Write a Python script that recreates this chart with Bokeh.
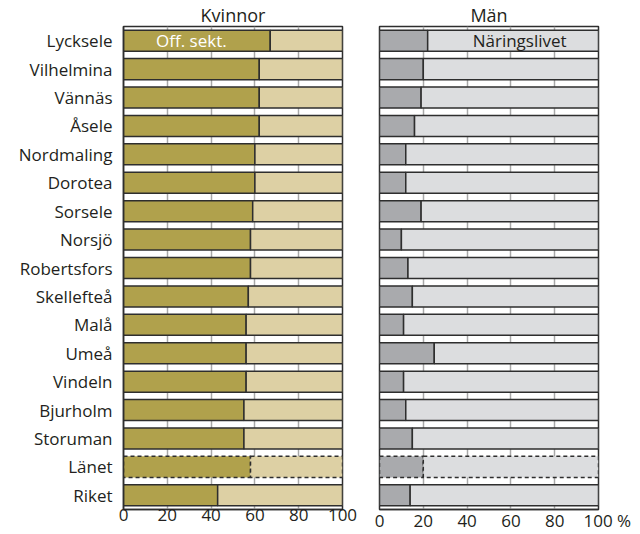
from bokeh.plotting import figure
from bokeh.models import FactorRange, Range1d, ColumnDataSource, FixedTicker
from bokeh.layouts import row
from bokeh.embed import file_html
from bokeh.resources import INLINE
from bokeh.core.properties import value

municipalities = ["Lycksele", "Vilhelmina", "Vännäs", "Åsele", "Nordmaling", "Dorotea",
                  "Sorsele", "Norsjö", "Robertsfors", "Skellefteå", "Malå", "Umeå",
                  "Vindeln", "Bjurholm", "Storuman", "Länet", "Riket"]
women_public = [67, 62, 62, 62, 60, 60, 59, 58, 58, 57, 56, 56, 56, 55, 55, 58, 43]
men_public = [22, 20, 19, 16, 12, 12, 19, 10, 13, 15, 11, 25, 11, 12, 15, 20, 14]
dashed_rows = ["Länet"]
x_ticks = [0, 20, 40, 60, 80, 100]
panel_titles = ["Kvinnor", "Män"]
public_label = "Off. sekt."
private_label = "Näringslivet"
unit_label = "%"

FONT = "Open Sans"
TEXT = "#231f20"
EDGE = "#2e2e2e"
GRID = "#a8a8a8"
FS = "17px"
H = 534


def make_panel(title, public, dark, light, show_y, width, left, right):
    p = figure(width=width, height=H,
               y_range=FactorRange(factors=list(reversed(municipalities))),
               x_range=Range1d(0, 100),
               output_backend="svg", toolbar_location=None,
               min_border_left=left, min_border_right=right,
               min_border_top=20, min_border_bottom=0)
    p.title.text = title
    p.title.align = "center"
    p.title.text_font = FONT
    p.title.text_font_size = "18px"
    p.title.text_font_style = "normal"
    p.title.text_color = TEXT
    p.title.offset = 0
    p.title.standoff = 0

    for dashed in (False, True):
        rows = [m for m in municipalities if (m in dashed_rows) == dashed]
        pub = [public[municipalities.index(m)] for m in rows]
        src = ColumnDataSource(dict(y=rows, pub=pub, zero=[0] * len(rows), full=[100] * len(rows)))
        kw = dict(line_color=EDGE, line_width=1.5)
        if dashed:
            kw["line_dash"] = "4 3"
        p.hbar(y="y", left="zero", right="pub", height=0.74, fill_color=dark, source=src, **kw)
        p.hbar(y="y", left="pub", right="full", height=0.74, fill_color=light, source=src, **kw)

    p.xgrid.ticker = FixedTicker(ticks=x_ticks[1:-1])
    p.xgrid.grid_line_color = GRID
    p.xgrid.grid_line_width = 1.5
    p.ygrid.grid_line_color = None

    p.xaxis.ticker = FixedTicker(ticks=x_ticks)
    p.xaxis.major_label_text_font = FONT
    p.xaxis.major_label_text_font_size = FS
    p.xaxis.major_label_text_color = TEXT
    p.xaxis.major_label_standoff = -1
    p.xaxis.major_tick_out = 0
    p.xaxis.major_tick_in = 0
    p.xaxis.minor_tick_line_color = None
    p.xaxis.axis_line_color = EDGE
    p.xaxis.axis_line_width = 1.5
    p.xaxis.major_tick_line_color = None

    if show_y:
        p.yaxis.major_label_text_font = FONT
        p.yaxis.major_label_text_font_size = FS
        p.yaxis.major_label_text_color = TEXT
        p.yaxis.major_label_standoff = 5
        p.yaxis.major_tick_line_color = None
        p.yaxis.minor_tick_line_color = None
        p.yaxis.axis_line_color = EDGE
        p.yaxis.axis_line_width = 1.5
    else:
        p.yaxis.visible = False

    p.outline_line_color = EDGE
    p.outline_line_width = 1.5
    p.background_fill_color = "white"
    p.border_fill_color = "white"
    return p


left_p = make_panel(panel_titles[0], women_public, "#b0a14c", "#ddd0a4", True, 360, 123, 18)
right_p = make_panel(panel_titles[1], men_public, "#a9aaad", "#dcdddf", False, 280, 19, 42)

# last tick label on the right panel carries the unit, padded so "100" stays centred on its tick
pad = "\u00a0" * 4
right_p.xaxis.major_label_overrides = {x_ticks[-1]: pad + str(x_ticks[-1]) + " " + unit_label}

left_p.text(x=[31], y=[municipalities[0]], text=[public_label], text_color="white",
            text_font=value(FONT), text_font_size=FS, text_align="center", text_baseline="middle")
right_p.text(x=[64], y=[municipalities[0]], text=[private_label], text_color=TEXT,
             text_font=value(FONT), text_font_size=FS, text_align="center", text_baseline="middle")

layout = row(left_p, right_p)
open("out.html", "w").write(file_html(layout, INLINE))
